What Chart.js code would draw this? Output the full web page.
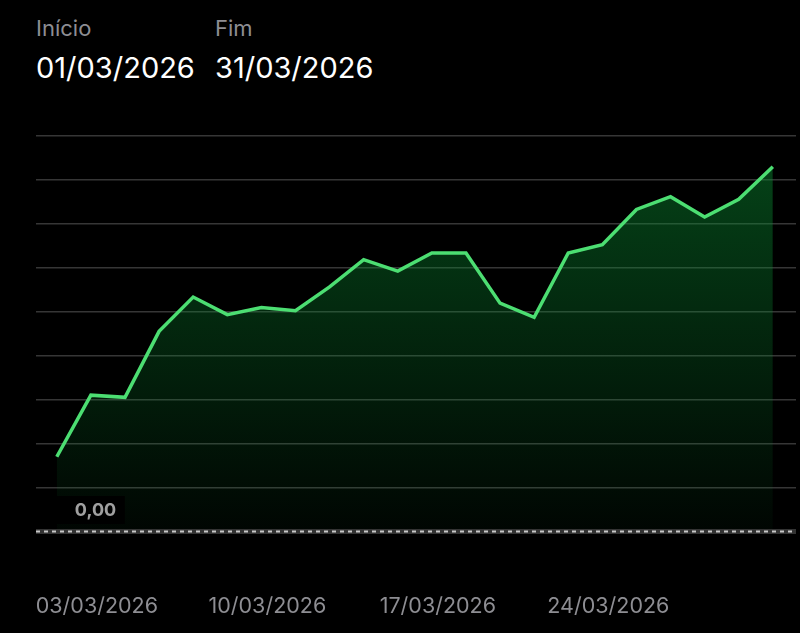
<!DOCTYPE html>
<html lang="pt">
<head>
<meta charset="utf-8">
<script src="https://cdn.jsdelivr.net/npm/chart.js@4/dist/chart.umd.min.js"></script>
<style>
  html, body { margin: 0; padding: 0; background: #000; }
  body { width: 800px; height: 633px; position: relative; overflow: hidden; font-family: Inter, "Noto Sans", sans-serif; }
  .hdr { position: absolute; top: 13px; }
  .hdr .lbl { color: #8e8e93; font-size: 22px; line-height: 30px; }
  .hdr .val { color: #fff; font-size: 29px; line-height: 50px; }
  #wrap { position: absolute; left: 0; top: 0; width: 800px; height: 633px; }
</style>
</head>
<body>
<div class="hdr" style="left:36px"><div class="lbl">Início</div><div class="val">01/03/2026</div></div>
<div class="hdr" style="left:215px"><div class="lbl">Fim</div><div class="val">31/03/2026</div></div>
<div id="wrap"><canvas id="chart"></canvas></div>
<script>
// trading days of March 2026
const dates = [
  "02/03/2026", "03/03/2026", "04/03/2026", "05/03/2026", "06/03/2026",
  "09/03/2026", "10/03/2026", "11/03/2026", "12/03/2026", "13/03/2026",
  "16/03/2026", "17/03/2026", "18/03/2026", "19/03/2026", "20/03/2026",
  "23/03/2026", "24/03/2026", "25/03/2026", "26/03/2026", "27/03/2026",
  "30/03/2026", "31/03/2026",
];
const values = [
  1.71, 3.11, 3.06, 4.56, 5.34, 4.94, 5.10, 5.03, 5.57, 6.19, 5.93,
  6.34, 6.34, 5.20, 4.88, 6.34, 6.53, 7.33, 7.62, 7.16, 7.56, 8.30,
];
const tickDates = ["03/03/2026", "10/03/2026", "17/03/2026", "24/03/2026"];
const zeroLabel = "0,00";

const points = values.map((v, i) => ({ x: i, y: v }));

// dashed zero line + "0,00" label
const zeroLine = {
  id: "zeroLine",
  afterDatasetsDraw(chart) {
    const { ctx, chartArea, scales } = chart;
    const y = scales.y.getPixelForValue(0);
    ctx.save();
    ctx.fillStyle = "#333";
    ctx.fillRect(chartArea.left, y - 3, chartArea.right - chartArea.left, 5);
    ctx.strokeStyle = "#c8c8c8";
    ctx.lineWidth = 2;
    ctx.setLineDash([4, 4]);
    ctx.beginPath();
    ctx.moveTo(chartArea.left, y - 0.5);
    ctx.lineTo(chartArea.right, y - 0.5);
    ctx.stroke();
    ctx.setLineDash([]);
    const lx = scales.x.getPixelForValue(0);
    ctx.fillStyle = "#000";
    ctx.fillRect(lx, y - 36, 68, 28);
    ctx.font = "bold 18px Inter, 'Noto Sans', sans-serif";
    ctx.fillStyle = "#a0a0a0";
    ctx.textBaseline = "middle";
    ctx.fillText(zeroLabel, lx + 18, y - 21);
    ctx.restore();
  },
};

const canvas = document.getElementById("chart");
new Chart(canvas, {
  type: "line",
  data: {
    datasets: [
      {
        data: points,
        borderColor: "#4cde72",
        borderWidth: 3.5,
        pointRadius: 0,
        tension: 0,
        fill: "origin",
        backgroundColor: (context) => {
          const area = context.chart.chartArea;
          if (!area) return "rgba(0,80,30,0.3)";
          const g = context.chart.ctx.createLinearGradient(0, area.top, 0, area.bottom);
          g.addColorStop(0, "rgba(10,140,50,0.5)");
          g.addColorStop(1, "rgba(10,140,50,0.04)");
          return g;
        },
      },
    ],
  },
  options: {
    responsive: true,
    maintainAspectRatio: false,
    animation: false,
    layout: { padding: { top: 136, left: 36, right: 4, bottom: 0 } },
    scales: {
      x: {
        type: "linear",
        min: -0.61,
        max: 21.68,
        grid: { display: false, drawTicks: false },
        border: { display: false },
        afterBuildTicks: (scale) => {
          scale.ticks = tickDates.map((d) => ({ value: dates.indexOf(d) }));
        },
        afterFit: (scale) => {
          scale.height = 101;
          scale.paddingLeft = 0;
          scale.paddingRight = 0;
        },
        ticks: {
          autoSkip: false,
          maxRotation: 0,
          padding: 62,
          labelOffset: 6,
          color: "#8e8e93",
          font: { size: 21.5, family: "Inter, 'Noto Sans', sans-serif" },
          callback: (v) => dates[v],
        },
      },
      y: {
        min: 0,
        max: 9,
        ticks: { display: false, stepSize: 1 },
        border: { display: false },
        afterFit: (scale) => {
          scale.width = 0;
        },
        grid: {
          drawTicks: false,
          lineWidth: 1.5,
          color: (c) => (c.tick && c.tick.value === 0 ? "transparent" : "#363636"),
        },
      },
    },
    plugins: {
      legend: { display: false },
      tooltip: { enabled: false },
    },
  },
  plugins: [zeroLine],
});
</script>
</body>
</html>
